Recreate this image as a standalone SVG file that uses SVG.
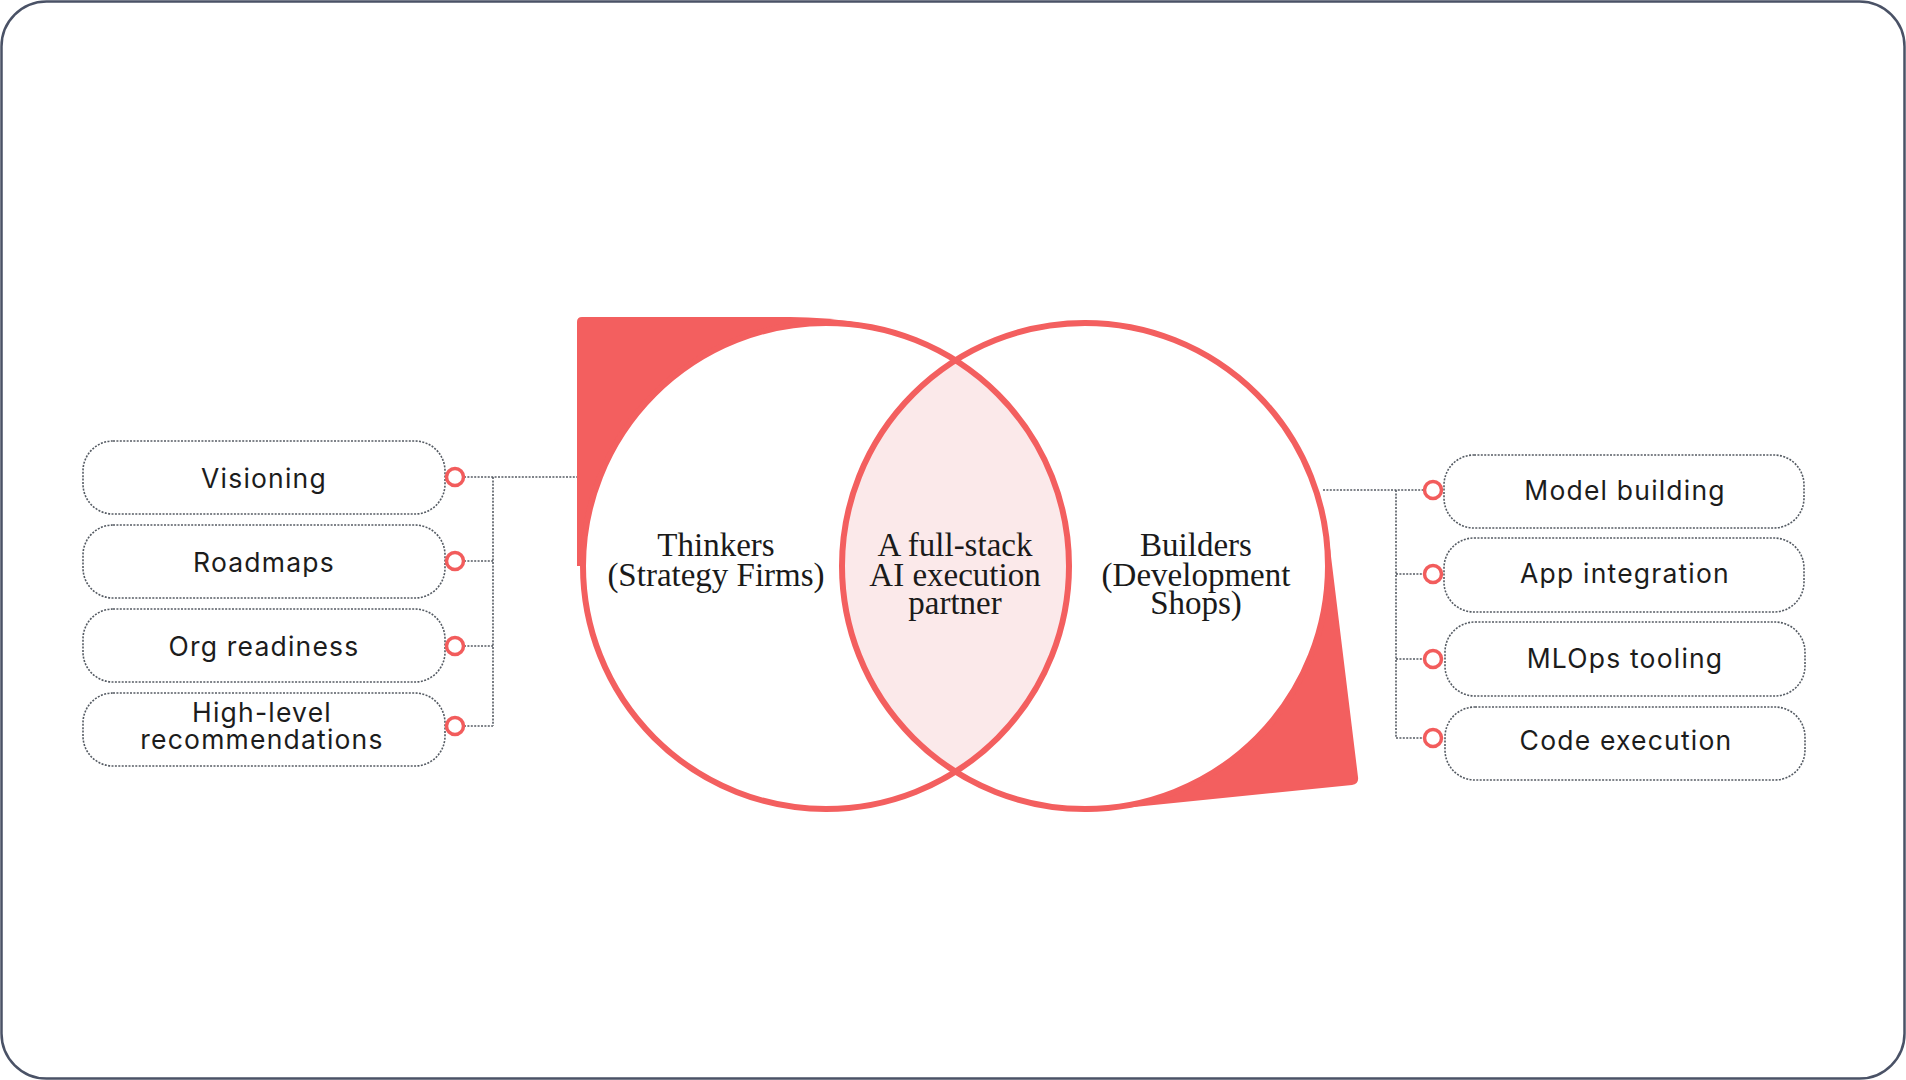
<svg xmlns="http://www.w3.org/2000/svg" width="1906" height="1080" viewBox="0 0 1906 1080">
<style>
.pill{fill:#fff;stroke:#555b63;stroke-width:1.6;stroke-dasharray:2 1.4}
.lbl{font-family:Inter,"Liberation Sans",sans-serif;font-size:26.5px;fill:#1c1c1c;text-anchor:middle;letter-spacing:1.2px}
.ser{font-family:"Liberation Serif","DejaVu Serif",serif;font-size:33px;fill:#1a1a1a;text-anchor:middle}
.ring{fill:#fff;stroke:#f25c5c;stroke-width:3.5}
.conn{fill:none;stroke:#555b63;stroke-width:1.6;stroke-dasharray:2 1.4}
.red{fill:#f35f5f}
.circ{fill:none;stroke:#f35f5f;stroke-width:6}
</style>
<rect x="1.5" y="1.5" width="1903" height="1077" rx="45" fill="#fff" stroke="#4a5266" stroke-width="2.5"/>

<g id="venn">
  <path class="red" d="M577 566 V322 Q577 317 582 317 H790 Q826 317 860 323 L826 566 Z"/>
  <path class="red" d="M1085 566 L1329 540 L1358 777 Q1359 784 1352 785 L1085 812 Z"/>
  <circle cx="826" cy="566" r="243" fill="#fff"/>
  <circle cx="1085" cy="566" r="243" fill="#fff"/>
  <path d="M955.5 360.3 A243 243 0 0 1 955.5 771.7 A243 243 0 0 1 955.5 360.3 Z" fill="#fbe9ea"/>
  <circle class="circ" cx="826" cy="566" r="243"/>
  <circle class="circ" cx="1085" cy="566" r="243"/>
</g>

<g id="thinkers">
  <text class="ser" x="716" y="556">Thinkers</text>
  <text class="ser" x="716" y="586">(Strategy Firms)</text>
</g>
<g id="partner">
  <text class="ser" x="955" y="556">A full-stack</text>
  <text class="ser" x="955" y="586">AI execution</text>
  <text class="ser" x="955" y="614">partner</text>
</g>
<g id="builders">
  <text class="ser" x="1196" y="556">Builders</text>
  <text class="ser" x="1196" y="586">(Development</text>
  <text class="ser" x="1196" y="614">Shops)</text>
</g>

<g id="connectors">
  <path class="conn" d="M464 477 H577 M493 477 V726 M464 561 H493 M464 646 H493 M464 726 H493"/>
  <path class="conn" d="M1323 490 H1424 M1396 490 V738 M1396 574 H1424 M1396 659 H1424 M1396 738 H1424"/>
</g>

<g id="visioning">
  <rect class="pill" x="83" y="441" width="362" height="73" rx="30"/>
  <text class="lbl" x="264" y="488">Visioning</text>
  <circle class="ring" cx="455" cy="477" r="8.5"/>
</g>
<g id="roadmaps">
  <rect class="pill" x="83" y="525" width="362" height="73" rx="30"/>
  <text class="lbl" x="264" y="572">Roadmaps</text>
  <circle class="ring" cx="455" cy="561" r="8.5"/>
</g>
<g id="org-readiness">
  <rect class="pill" x="83" y="609" width="362" height="73" rx="30"/>
  <text class="lbl" x="264" y="656">Org readiness</text>
  <circle class="ring" cx="455" cy="646" r="8.5"/>
</g>
<g id="high-level">
  <rect class="pill" x="83" y="693" width="362" height="73" rx="30"/>
  <text class="lbl" x="262" y="722">High-level</text>
  <text class="lbl" x="262" y="749">recommendations</text>
  <circle class="ring" cx="455" cy="726" r="8.5"/>
</g>

<g id="model-building">
  <rect class="pill" x="1444" y="455" width="360" height="73" rx="30"/>
  <text class="lbl" x="1625" y="500">Model building</text>
  <circle class="ring" cx="1433" cy="490" r="8.5"/>
</g>
<g id="app-integration">
  <rect class="pill" x="1444" y="538" width="360" height="74" rx="30"/>
  <text class="lbl" x="1625" y="583">App integration</text>
  <circle class="ring" cx="1433" cy="574" r="8.5"/>
</g>
<g id="mlops-tooling">
  <rect class="pill" x="1445" y="622" width="360" height="74" rx="30"/>
  <text class="lbl" x="1625" y="668">MLOps tooling</text>
  <circle class="ring" cx="1433" cy="659" r="8.5"/>
</g>
<g id="code-execution">
  <rect class="pill" x="1445" y="707" width="360" height="73" rx="30"/>
  <text class="lbl" x="1626" y="750">Code execution</text>
  <circle class="ring" cx="1433" cy="738" r="8.5"/>
</g>
</svg>
